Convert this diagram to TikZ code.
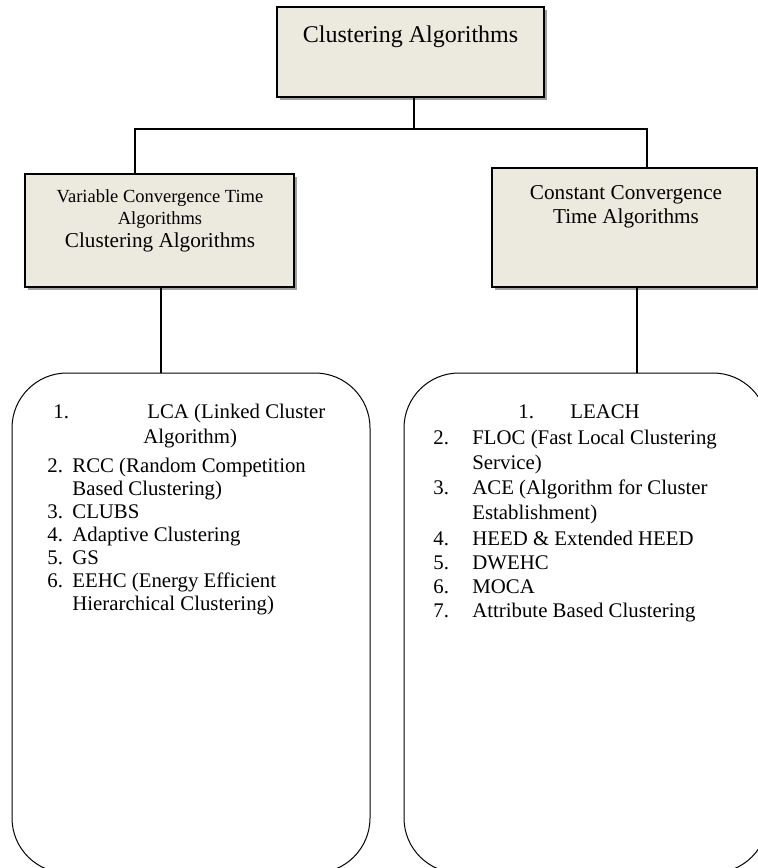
\documentclass[tikz,border=0pt]{standalone}
\usepackage{fontspec}
\setmainfont{Liberation Serif}
\usetikzlibrary{shadows}
\definecolor{boxfill}{RGB}{236,233,223}
\definecolor{shadowgray}{RGB}{160,160,160}
\begin{document}
\begin{tikzpicture}[x=0.5pt,y=-0.5pt,
  catbox/.style={draw=black, line width=1.1pt, fill=boxfill, rectangle, inner sep=0pt,
    drop shadow={shadow xshift=1.6pt, shadow yshift=-1.6pt, fill=shadowgray, opacity=1}},
  listbox/.style={draw=black, line width=0.5pt, rectangle, rounded corners=27.5pt, inner sep=0pt},
  link/.style={draw=black, line width=1pt},
  headtxt/.style={inner sep=0pt, anchor=base, font=\fontsize{12}{14}\selectfont},
  cattxt/.style={inner sep=0pt, anchor=base, font=\fontsize{10.6}{12}\selectfont},
  smalltxt/.style={inner sep=0pt, anchor=base, font=\fontsize{9.25}{11}\selectfont},
  itemtxt/.style={inner sep=0pt, anchor=base west, font=\fontsize{10.4}{12}\selectfont}
]
\useasboundingbox (0,0) rectangle (758,868);
\clip (0,0) rectangle (758,868);

% category boxes
\node[catbox, minimum width=133.5pt, minimum height=45pt] (top) at (410.5,52) {};
\node[catbox, minimum width=134.5pt, minimum height=56.5pt] (leftcat) at (159.5,230.5) {};
\node[catbox, minimum width=132.5pt, minimum height=59.5pt] (rightcat) at (624.5,227.5) {};

% list boxes (their lower edges run just past the page)
\node[listbox, minimum width=179pt, minimum height=250pt] (leftlist) at (191,623) {};
\node[listbox, minimum width=182pt, minimum height=250pt] (rightlist) at (586,623) {};

% connectors
\coordinate (jn) at (414,129);
\coordinate (lx) at (135,0);
\coordinate (rx) at (647,0);
\coordinate (ldx) at (161,0);
\coordinate (rdx) at (637,0);
\draw[link] (top.south -| jn) -- (jn);
\draw[link] (jn) -| (leftcat.north -| lx);
\draw[link] (jn) -| (rightcat.north -| rx);
\draw[link] (leftcat.south -| ldx) -- (leftlist.north -| ldx);
\draw[link] (rightcat.south -| rdx) -- (rightlist.north -| rdx);

% box titles
\node[headtxt] (toptitle) at (410.5,42) {Clustering Algorithms};
\node[smalltxt] (vct1) at (160,202) {Variable Convergence Time};
\node[smalltxt] (vct2) at (160,224) {Algorithms};
\node[cattxt] (vct3) at (160,247) {Clustering Algorithms};
\node[cattxt] (cct1) at (626,199) {Constant Convergence};
\node[cattxt] (cct2) at (626,223) {Time Algorithms};

% variable convergence time list
\node[itemtxt] (ln1) at (53,418) {1.};
\node[itemtxt] (lt1) at (147,418) {LCA (Linked Cluster};
\node[itemtxt] (lt1b) at (143,443) {Algorithm)};
\node[itemtxt] (ln2) at (47,472) {2.};
\node[itemtxt] (lt2) at (72,472) {RCC (Random Competition};
\node[itemtxt] (lt2b) at (72,495) {Based Clustering)};
\node[itemtxt] (ln3) at (47,518) {3.};
\node[itemtxt] (lt3) at (72,518) {CLUBS};
\node[itemtxt] (ln4) at (47,541) {4.};
\node[itemtxt] (lt4) at (72,541) {Adaptive Clustering};
\node[itemtxt] (ln5) at (47,564) {5.};
\node[itemtxt] (lt5) at (72,564) {GS};
\node[itemtxt] (ln6) at (47,587) {6.};
\node[itemtxt] (lt6) at (72,587) {EEHC (Energy Efficient};
\node[itemtxt] (lt6b) at (72,610) {Hierarchical Clustering)};

% constant convergence time list
\node[itemtxt] (rn1) at (518,418) {1.};
\node[itemtxt] (rt1) at (570,418) {LEACH};
\node[itemtxt] (rn2) at (433,444) {2.};
\node[itemtxt] (rt2) at (472,444) {FLOC (Fast Local Clustering};
\node[itemtxt] (rt2b) at (472,469) {Service)};
\node[itemtxt] (rn3) at (433,494) {3.};
\node[itemtxt] (rt3) at (472,494) {ACE (Algorithm for Cluster};
\node[itemtxt] (rt3b) at (472,519) {Establishment)};
\node[itemtxt] (rn4) at (433,545) {4.};
\node[itemtxt] (rt4) at (472,545) {HEED \& Extended HEED};
\node[itemtxt] (rn5) at (433,569) {5.};
\node[itemtxt] (rt5) at (472,569) {DWEHC};
\node[itemtxt] (rn6) at (433,593) {6.};
\node[itemtxt] (rt6) at (472,593) {MOCA};
\node[itemtxt] (rn7) at (433,617) {7.};
\node[itemtxt] (rt7) at (472,617) {Attribute Based Clustering};
\end{tikzpicture}
\end{document}
